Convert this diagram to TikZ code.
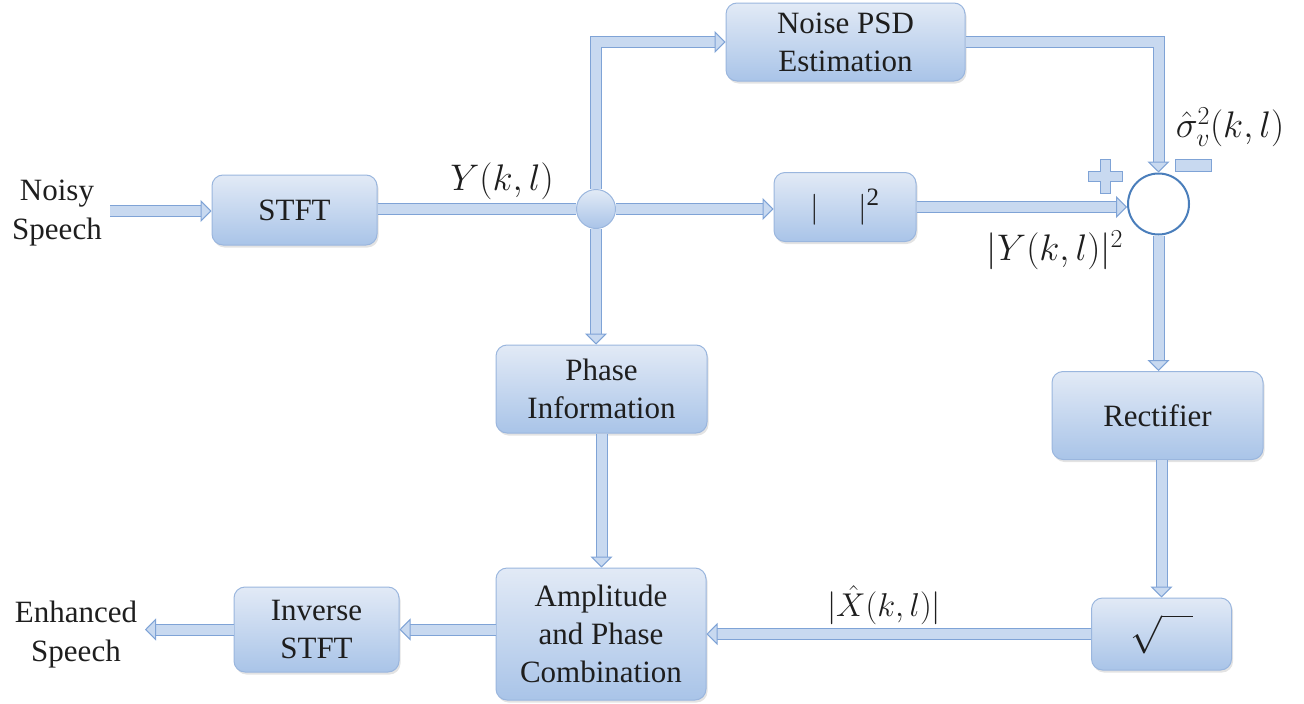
\RequirePackage{fix-cm}
\documentclass[tikz,border=0pt]{standalone}
\usepackage{fontspec}
\setmainfont{Liberation Serif}
\usetikzlibrary{arrows.meta,shadows}

\definecolor{boxtop}{HTML}{E2EAF6}
\definecolor{boxbot}{HTML}{A9C4E8}
\definecolor{boxedge}{HTML}{9AB6DE}
\definecolor{pipefill}{HTML}{C8D9F0}
\definecolor{pipeedge}{HTML}{7FA3D6}
\definecolor{sumedge}{HTML}{4A7EBB}
\definecolor{ink}{HTML}{1E1E1E}

\tikzset{
  block/.style={draw=boxedge, line width=1pt, rounded corners=11pt,
    top color=boxtop, bottom color=boxbot, text=ink,
    drop shadow={opacity=0.22, shadow xshift=1.5pt, shadow yshift=-2.5pt},
    align=center, inner sep=0pt, font=\fontsize{31}{38}\selectfont},
  lbl/.style={text=ink, align=center, inner sep=0pt, font=\fontsize{31}{39}\selectfont},
  mlbl/.style={text=ink, inner sep=0pt, font=\fontsize{37}{40}\selectfont},
  pipe/.style={draw=pipefill, line width=10pt,
    preaction={draw=pipeedge, line width=12pt, arrows=-, shorten >=10pt},
    -{Triangle[length=11pt, width=22pt, fill=pipefill, color=pipeedge, line width=1pt]}},
  pipeplain/.style={draw=pipefill, line width=10pt,
    preaction={draw=pipeedge, line width=12pt}},
  signmark/.style={draw=pipeedge, fill=pipefill, line width=1pt},
}

\begin{document}
\begin{tikzpicture}[x=1pt, y=-1pt]
\useasboundingbox (0,0) rectangle (1304,704);

% processing blocks
\node[block, minimum width=165pt, minimum height=70pt] (stft) at (294.5,210) {STFT};
\node[block, minimum width=239pt, minimum height=78pt] (psd) at (845.5,42) {Noise PSD\\Estimation};
\node[block, minimum width=142pt, minimum height=69pt] (sq) at (845,207)
  {$\vert\hspace{1.25em}\vert$\raisebox{12pt}{\fontsize{25}{25}\selectfont 2}};
\node[block, minimum width=211pt, minimum height=88pt] (ph) at (601.5,389) {Phase\\Information};
\node[block, minimum width=211pt, minimum height=88pt] (rect) at (1157.5,415.5) {Rectifier};
\node[block, minimum width=140pt, minimum height=72pt, font=\fontsize{38}{40}\selectfont]
  (sqr) at (1161.5,634) {$\sqrt{\vphantom{b}\hspace{0.8em}}$};
\node[block, minimum width=210pt, minimum height=132pt] (amp) at (601,634) {Amplitude\\and Phase\\Combination};
\node[block, minimum width=165pt, minimum height=85pt] (inv) at (316.5,629.5) {Inverse\\STFT};

% branch point and summing junction
\node[circle, draw=boxedge, line width=1pt, top color=boxtop, bottom color=boxbot,
      minimum size=39pt, inner sep=0pt] (j) at (596,209) {};
\node[circle, draw=sumedge, line width=2pt, fill=white, minimum size=61pt, inner sep=0pt] (sum) at (1158.5,204) {};

% input / output labels
\node[lbl] (noisy) at (57,213) {Noisy\\Speech};
\node[lbl] (enh) at (76,635) {Enhanced\\Speech};
\coordinate (src) at (110,211);
\coordinate (sink) at (145,632);

% signal labels
\node[mlbl] (ylab) at (502,181) {$Y(k,l)$};
\node[mlbl] (y2lab) at (1055,250) {$|Y(k,l)|^{2}$};
\node[mlbl] (siglab) at (1230,127) {$\hat{\sigma}_{v}^{2}(k,l)$};
\node[mlbl, font=\fontsize{33}{38}\selectfont] (xlab) at (884,605) {$\Bigl|\hat{X}(k,l)\Bigr|$};

% signal flow
\draw[pipe] (src) -- (src -| stft.west);
\draw[pipeplain] (j.west -| stft.east) -- (j.west);
\draw[pipe] (j.north) |- (psd.west);
\draw[pipe] (j.east) -- (j.east -| sq.west);
\draw[pipe] (j.south) -- (j.south |- ph.north);
\draw[pipe] (psd.east) -| (sum.north);
\draw[pipe] (sq.east) -- (sq.east -| sum.west);
\draw[pipe] (sum.south) -- (sum.south |- rect.north);
\draw[pipe] (sqr.north |- rect.south) -- (sqr.north);
\draw[pipe] (ph.south) -- (ph.south |- amp.north);
\draw[pipe] (sqr.west) -- (sqr.west -| amp.east);
\draw[pipe] (inv.east -| amp.west) -- (inv.east);
\draw[pipe] (inv.west) -- (inv.west -| sink);

% plus and minus signs at the summing junction
\draw[signmark] (1100.5,159.5) -- ++(10,0) -- ++(0,12) -- ++(12,0) -- ++(0,10)
  -- ++(-12,0) -- ++(0,12) -- ++(-10,0) -- ++(0,-12) -- ++(-12,0) -- ++(0,-10)
  -- ++(12,0) -- cycle;
\draw[signmark] (1175,159) rectangle (1211,171);
\end{tikzpicture}
\end{document}
